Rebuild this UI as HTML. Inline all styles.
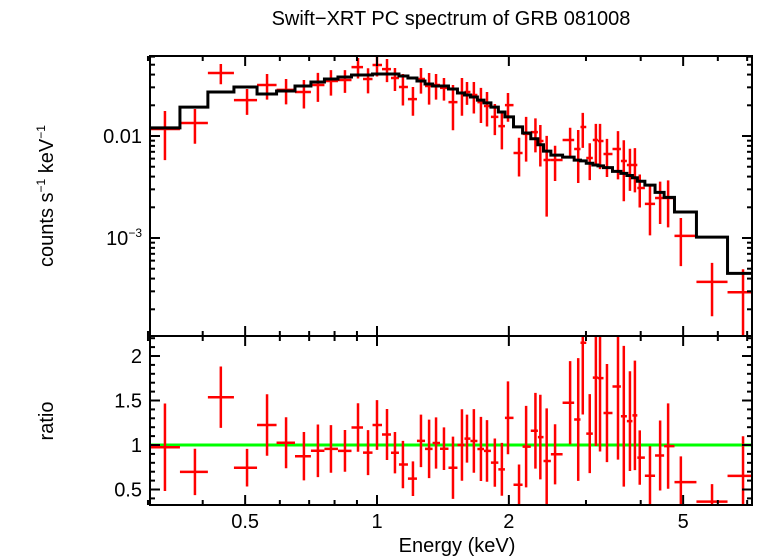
<!DOCTYPE html>
<html><head><meta charset="utf-8"><style>
html,body{margin:0;padding:0;background:#fff;}
svg{display:block;font-family:"Liberation Sans",sans-serif;}
</style></head><body>
<svg id="chart" width="758" height="556" viewBox="0 0 758 556" xmlns="http://www.w3.org/2000/svg">
<text x="451" y="25" font-size="20" text-anchor="middle">Swift−XRT PC spectrum of GRB 081008</text>
<text transform="translate(53,196) rotate(-90)" font-size="20" text-anchor="middle">counts s<tspan font-size="12" dy="-8">−1</tspan><tspan dy="8"> keV</tspan><tspan font-size="12" dy="-8">−1</tspan></text>
<text transform="translate(53,421) rotate(-90)" font-size="20" text-anchor="middle">ratio</text>
<text x="457" y="552" font-size="20" text-anchor="middle">Energy (keV)</text>
<g id="g"></g>
</svg>
<script>
const energies=[0.328,0.384,0.440,0.505,0.561,0.620,0.681,0.733,0.785,0.845,0.905,0.954,1.0,1.054,1.099,1.146,1.208,1.26,1.315,1.364,1.422,1.491,1.563,1.605,1.664,1.727,1.783,1.858,1.928,1.991,2.11,2.19,2.30,2.36,2.44,2.55,2.76,2.88,2.95,3.06,3.16,3.23,3.35,3.55,3.66,3.78,3.88,3.98,4.20,4.43,4.62,4.94,5.82,6.85];
const counts=[0.0117,0.0134,0.0415,0.0225,0.0316,0.0283,0.0270,0.0316,0.0346,0.0354,0.0474,0.0362,0.0496,0.0453,0.0370,0.0302,0.0230,0.0362,0.0309,0.0316,0.0296,0.0215,0.0264,0.0270,0.0252,0.0215,0.0197,0.0154,0.0125,0.0201,0.00681,0.0105,0.0109,0.00893,0.00582,0.00582,0.00914,0.00746,0.01225,0.00609,0.00914,0.00893,0.00666,0.00746,0.00569,0.00520,0.00520,0.00309,0.00216,0.00247,0.00247,0.00105,0.000371,0.000294];
const countErr=[0.0059,0.005,0.0093,0.0064,0.0089,0.0079,0.0084,0.010,0.0097,0.0089,0.0108,0.010,0.0113,0.0116,0.0094,0.0103,0.0072,0.0102,0.0106,0.0089,0.0074,0.0101,0.0106,0.0068,0.0086,0.0081,0.0073,0.0052,0.0051,0.0063,0.0028,0.0049,0.004,0.0039,0.0042,0.0022,0.0029,0.004,0.0046,0.0024,0.004,0.0042,0.0027,0.0037,0.0034,0.0023,0.0024,0.0011,0.0011,0.0011,0.0012,0.00052,0.0002,0.0002];
const model=[0.0120,0.0192,0.0270,0.0302,0.0258,0.0276,0.0309,0.0338,0.0362,0.0379,0.0396,0.0396,0.0405,0.0405,0.0405,0.0387,0.0370,0.0346,0.0323,0.0309,0.0309,0.0289,0.0264,0.0252,0.0241,0.0225,0.0211,0.0192,0.0172,0.0154,0.0123,0.0107,0.0094,0.0082,0.0071,0.0065,0.0062,0.0058,0.0057,0.0054,0.0052,0.0051,0.0049,0.0045,0.0043,0.0041,0.0039,0.0036,0.0033,0.0028,0.0025,0.0018,0.00102,0.00045];
const xMajor=[0.5,1,2,5];
const xMajorLabels=["0.5","1","2","5"];
const xMinor=[0.3,0.4,0.6,0.7,0.8,0.9,3,4,6,7];
const ratioTicks=[0.5,1,1.5,2];
const ratioTickLabels=["0.5","1","1.5","2"];

const NS="http://www.w3.org/2000/svg";
const g=document.getElementById('g');
const L=150,R=752,T1=56,B1=336,T2=336,B2=505;
const xs=e=>377+438*Math.log10(e);
const y1=v=>136-102*(Math.log10(v)+2);
const y2=r=>445-89*(r-1);
function el(tag,attrs,parent){const e=document.createElementNS(NS,tag);for(const k in attrs)e.setAttribute(k,attrs[k]);(parent||g).appendChild(e);return e;}
const defs=el('defs',{});
const c1=el('clipPath',{id:'c1'},defs);el('rect',{x:L,y:T1,width:R-L,height:B1-T1},c1);
const c2=el('clipPath',{id:'c2'},defs);el('rect',{x:L,y:T2,width:R-L,height:B2-T2},c2);
const edges=[0.3];
for(let i=0;i<energies.length-1;i++)edges.push(Math.sqrt(energies[i]*energies[i+1]));
edges.push(7.3);
const topG=el('g',{'clip-path':'url(#c1)'});


const botG=el('g',{'clip-path':'url(#c2)'});


const gl=el('line',{x1:L,x2:R,y1:y2(1),y2:y2(1),stroke:'#00ff00','stroke-width':3},botG);


for(let i=0;i<energies.length;i++){
  const xa=xs(edges[i]),xb=xs(edges[i+1]),xc=xs(energies[i]);
  const v=counts[i],er=countErr[i];
  const lo=Math.max(v-er,1e-6);
  const p=el('path',{d:`M${xa},${y1(v)}H${xb}M${xc},${y1(v+er)}V${y1(lo)}`,stroke:'#ff0000','stroke-width':2.5,fill:'none'},topG);
  
  
  const r=v/model[i],re=er/model[i];
  const q=el('path',{d:`M${xa},${y2(r)}H${xb}M${xc},${y2(r+re)}V${y2(r-re)}`,stroke:'#ff0000','stroke-width':2.5,fill:'none'},botG);
  
  
}
let d='';
for(let i=0;i<model.length;i++){d+=(i?'L':'M')+xs(edges[i])+','+y1(model[i])+'H'+xs(edges[i+1]);}
const mp=el('path',{d:d,stroke:'#000','stroke-width':3,fill:'none'},topG);


for(const [t,b,nm] of [[T1,B1,'top-panel-frame'],[T2,B2,'ratio-panel-frame']]){
  const f=el('rect',{x:L,y:t,width:R-L,height:b-t,fill:'none',stroke:'#000','stroke-width':2});
  
  
}
function tick(xa,ya,xb,yb){el('line',{x1:xa,y1:ya,x2:xb,y2:yb,stroke:'#000','stroke-width':2});}
for(const [t,b] of [[T1,B1],[T2,B2]]){
  xMajor.forEach(e=>{const x=xs(e);tick(x,t,x,t+10);tick(x,b,x,b-10);});
  xMinor.forEach(e=>{const x=xs(e);tick(x,t,x,t+5);tick(x,b,x,b-5);});
}
xMajor.forEach((e,i)=>{const tx=el('text',{x:xs(e),y:528,'font-size':20,'text-anchor':'middle'});tx.textContent=xMajorLabels[i];
  
  });
for(let p=-4;p<=-1;p++){for(let m=1;m<10;m++){const v=m*Math.pow(10,p);const y=y1(v);if(y<T1||y>B1)continue;const w=m===1?10:5;tick(L,y,L+w,y);tick(R,y,R-w,y);}}
let lab=el('text',{x:142,y:143,'font-size':20,'text-anchor':'end'});lab.textContent='0.01';


lab=el('text',{x:142,y:245,'font-size':20,'text-anchor':'end'});lab.innerHTML='10<tspan font-size="12" dy="-8">−3</tspan>';


for(let k=4;k<=22;k++){const r=k/10;const y=y2(r);if(y<T2||y>B2)continue;const w=(k%5===0)?10:5;tick(L,y,L+w,y);tick(R,y,R-w,y);}
ratioTicks.forEach((r,i)=>{const tt=el('text',{x:142,y:y2(r)+7,'font-size':20,'text-anchor':'end'});tt.textContent=ratioTickLabels[i];
  
  });
</script>
</body></html>
